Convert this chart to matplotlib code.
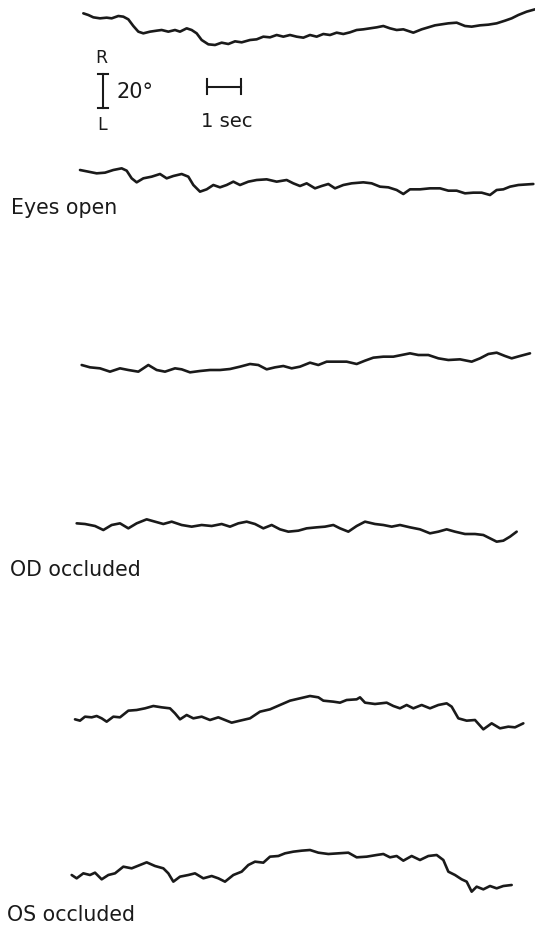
import matplotlib.pyplot as plt
import numpy as np

# eye position records: time (s) and horizontal position (deg, + = right)
t_top = [0.40, 0.55, 0.70, 0.90, 1.10, 1.25, 1.45, 1.60, 1.75, 1.90, 2.05, 2.20, 2.40, 2.60, 2.75,
         2.95, 3.15, 3.30, 3.50, 3.65, 3.80, 3.95, 4.15, 4.35, 4.55, 4.75, 4.95, 5.15, 5.40, 5.60,
         5.80, 6.00, 6.20, 6.40, 6.60, 6.80, 7.00, 7.20, 7.40, 7.60, 7.80, 8.00, 8.20, 8.40, 8.60,
         8.80, 9.00, 9.20, 9.40, 9.60, 9.80, 10.00, 10.30, 10.55, 10.75, 10.95, 11.15, 11.35, 11.60,
         11.85, 12.05, 12.30, 12.55, 12.80, 13.05, 13.25, 13.45, 13.70, 13.95]
pos_top = [8.0, 7.0, 5.6, 5.0, 5.4, 5.0, 6.4, 6.0, 4.4, 0.4, -3.0, -4.0, -3.0, -2.4, -2.0,
           -3.0, -2.0, -3.0, -1.0, -2.0, -4.0, -8.0, -10.6, -11.0, -9.6, -10.4, -8.8, -9.4, -8.0, -7.6,
           -6.0, -6.4, -5.0, -6.0, -5.0, -6.0, -6.6, -5.0, -6.0, -4.4, -5.0, -3.6, -4.4, -3.4, -2.0,
           -1.6, -1.0, -0.4, 0.4, -1.0, -2.0, -1.6, -3.6, -1.6, -0.4, 0.8, 1.4, 2.0, 2.4,
           0.4, 0.0, 0.8, 1.2, 2.0, 3.6, 5.0, 7.0, 9.0, 10.4]

t_open = [0.30, 0.55, 0.80, 1.05, 1.30, 1.55, 1.70, 1.85, 2.00, 2.20, 2.45, 2.70, 2.90, 3.10, 3.35,
          3.55, 3.70, 3.90, 4.10, 4.30, 4.50, 4.70, 4.90, 5.10, 5.35, 5.60, 5.90, 6.20, 6.50, 6.70,
          6.90, 7.10, 7.35, 7.55, 7.75, 7.95, 8.20, 8.45, 8.80, 9.05, 9.30, 9.55, 9.80, 10.00, 10.20,
          10.50, 10.80, 11.10, 11.35, 11.60, 11.85, 12.10, 12.35, 12.60, 12.80, 13.00, 13.20, 13.45, 13.90]
pos_open = [8.0, 7.0, 6.0, 6.4, 8.0, 9.0, 7.6, 3.0, 0.6, 3.0, 4.0, 5.6, 3.0, 4.4, 5.6,
            4.0, -1.0, -5.0, -3.6, -1.0, -2.4, -1.0, 1.0, -1.0, 1.0, 2.0, 2.4, 1.0, 2.0, 0.0,
            -1.6, 0.0, -3.0, -1.6, -0.4, -3.0, -1.0, 0.0, 0.6, 0.0, -2.0, -2.4, -4.0, -6.4, -3.6,
            -3.6, -3.0, -3.0, -4.4, -4.4, -6.0, -5.6, -5.6, -7.0, -4.0, -3.6, -2.0, -1.0, -0.4]

t_od1 = [0.35, 0.60, 0.90, 1.20, 1.50, 1.75, 2.05, 2.35, 2.60, 2.85, 3.15, 3.35, 3.60, 3.90, 4.20,
         4.50, 4.80, 5.10, 5.40, 5.65, 5.90, 6.15, 6.40, 6.65, 6.90, 7.20, 7.45, 7.70, 8.00, 8.30,
         8.60, 8.85, 9.10, 9.40, 9.70, 9.95, 10.20, 10.45, 10.75, 11.05, 11.35, 11.70, 12.05, 12.30,
         12.55, 12.80, 13.05, 13.25, 13.50, 13.80]
pos_od1 = [-1.0, -2.4, -3.0, -5.0, -3.0, -4.0, -5.0, -1.0, -4.0, -5.0, -3.0, -3.6, -5.4, -4.6, -4.0,
           -4.0, -3.4, -2.0, -0.4, -1.0, -3.6, -2.4, -1.6, -3.0, -2.0, 0.4, -1.0, 1.0, 1.0, 1.0,
           -0.4, 1.6, 3.4, 4.0, 4.0, 5.0, 6.0, 5.0, 5.0, 3.0, 2.0, 2.4, 1.0, 3.0,
           5.6, 6.4, 4.4, 3.0, 4.4, 6.0]

t_od2 = [0.20, 0.45, 0.75, 1.00, 1.25, 1.50, 1.75, 2.00, 2.30, 2.55, 2.80, 3.05, 3.35, 3.65, 3.95,
         4.25, 4.55, 4.80, 5.05, 5.30, 5.55, 5.80, 6.05, 6.30, 6.55, 6.85, 7.10, 7.40, 7.65, 7.90,
         8.10, 8.35, 8.60, 8.85, 9.15, 9.40, 9.65, 9.90, 10.20, 10.50, 10.80, 11.05, 11.30, 11.55,
         11.85, 12.15, 12.40, 12.60, 12.80, 13.00, 13.20, 13.40]
pos_od2 = [2.0, 1.6, 0.4, -2.0, 1.0, 2.0, -1.0, 2.0, 4.4, 3.0, 1.6, 3.0, 1.0, 0.0, 1.0,
           0.4, 1.6, 0.0, 2.0, 3.0, 1.6, -1.0, 1.0, -1.6, -3.0, -2.4, -1.0, -0.4, 0.0, 1.0,
           -1.0, -3.0, 0.4, 3.0, 1.6, 1.0, 0.0, 1.0, -0.4, -1.6, -4.0, -3.0, -1.6, -3.0,
           -4.4, -4.4, -5.0, -7.0, -9.0, -8.4, -6.0, -3.0]

t_os1 = [0.15, 0.30, 0.45, 0.65, 0.80, 0.95, 1.10, 1.30, 1.50, 1.75, 2.00, 2.25, 2.50, 2.75, 3.00,
         3.15, 3.30, 3.50, 3.70, 3.95, 4.20, 4.45, 4.65, 4.85, 5.10, 5.40, 5.70, 6.00, 6.30, 6.60,
         6.90, 7.20, 7.45, 7.60, 7.90, 8.10, 8.30, 8.60, 8.70, 8.85, 9.15, 9.50, 9.70, 9.90, 10.10,
         10.30, 10.55, 10.80, 11.05, 11.30, 11.45, 11.65, 11.90, 12.15, 12.40, 12.65, 12.90, 13.15,
         13.35, 13.60]
pos_os1 = [-1.6, -2.4, 0.0, -0.4, 0.4, -1.0, -3.0, 0.0, -0.4, 3.6, 4.0, 5.0, 6.4, 5.6, 5.0,
           2.0, -1.6, 1.0, -1.0, 0.0, -2.0, -0.4, -2.0, -3.6, -2.4, -1.0, 3.0, 4.4, 7.0, 9.6,
           11.0, 12.4, 11.6, 9.6, 9.0, 8.4, 10.0, 10.4, 11.6, 8.4, 7.6, 8.4, 6.4, 5.0, 7.0,
           5.0, 7.0, 5.0, 7.0, 8.0, 6.0, -1.0, -2.4, -2.0, -7.6, -4.0, -7.0, -6.0,
           -6.4, -4.0]

t_os2 = [0.05, 0.20, 0.40, 0.60, 0.75, 0.95, 1.15, 1.35, 1.60, 1.85, 2.10, 2.30, 2.55, 2.80, 2.95,
         3.10, 3.30, 3.55, 3.75, 4.00, 4.25, 4.45, 4.65, 4.90, 5.15, 5.35, 5.55, 5.80, 6.00, 6.25,
         6.45, 6.70, 6.95, 7.20, 7.45, 7.75, 8.05, 8.35, 8.60, 8.90, 9.20, 9.40, 9.60, 9.80, 10.00,
         10.25, 10.50, 10.75, 11.00, 11.20, 11.35, 11.55, 11.75, 11.90, 12.05, 12.20, 12.40, 12.60,
         12.80, 13.00, 13.25]
pos_os2 = [-3.0, -5.0, -2.0, -3.0, -1.6, -5.6, -3.0, -2.0, 2.0, 1.0, 3.0, 4.6, 2.4, 1.0, -2.0,
           -7.0, -4.0, -3.0, -2.0, -5.0, -3.6, -5.0, -7.0, -3.0, -1.0, 3.0, 5.0, 4.4, 8.0, 8.4,
           10.0, 11.0, 11.6, 12.0, 10.4, 9.6, 10.0, 10.4, 7.6, 8.0, 9.0, 9.6, 7.6, 8.4, 5.6,
           8.4, 6.0, 8.4, 9.0, 6.0, -1.0, -3.0, -5.6, -7.0, -13.0, -10.0, -11.6, -9.6,
           -11.0, -9.6, -9.0]

traces = [(t_top, pos_top), (t_open, pos_open), (t_od1, pos_od1),
          (t_od2, pos_od2), (t_os1, pos_os1), (t_os2, pos_os2)]
labels = ["Eyes open", "OD occluded", "OS occluded"]

# vertical placement of each record on the page
offsets = [-16.0, -110.0, -218.0, -316.0, -430.0, -522.0]
label_pos = [(-1.78, -128.7), (-1.79, -345.9), (-1.90, -552.6)]

plt.rcParams["font.family"] = ["DejaVu Sans"]
ink = "#1a1a1a"

fig = plt.figure(figsize=(5.35, 9.36), dpi=100)
ax = fig.add_axes([0, 0, 1, 1])
ax.set_xlim(-2.1, 13.95)
ax.set_ylim(-561.6, 0)
ax.axis("off")

for (t, p), off in zip(traces, offsets):
    ax.plot(t, np.array(p) + off, color=ink, lw=1.9, solid_joinstyle="round",
            solid_capstyle="round")

for text, (x, y) in zip(labels, label_pos):
    ax.text(x, y, text, fontsize=14.8, color=ink, ha="left", va="baseline")

# calibration: 20 degrees vertical, 1 second horizontal
bar_x, bar_top = 1.00, -44.5
ax.plot([bar_x, bar_x], [bar_top, bar_top - 20], color=ink, lw=1.5)
for yy in (bar_top, bar_top - 20):
    ax.plot([bar_x - 0.15, bar_x + 0.15], [yy, yy], color=ink, lw=1.5)
ax.text(bar_x - 0.05, -38.0, "R", fontsize=12.5, color=ink, ha="center", va="baseline")
ax.text(bar_x - 0.05, -78.0, "L", fontsize=12.5, color=ink, ha="center", va="baseline")
ax.text(1.40, -59.0, "20°", fontsize=15, color=ink, ha="left", va="baseline")

sec_x, sec_y = 4.12, -52.0
ax.plot([sec_x, sec_x + 1], [sec_y, sec_y], color=ink, lw=1.5)
for xx in (sec_x, sec_x + 1):
    ax.plot([xx, xx], [sec_y + 4.5, sec_y - 4.5], color=ink, lw=1.5)
ax.text(4.70, -76.0, "1 sec", fontsize=14, color=ink, ha="center", va="baseline")

fig.savefig("out.png", dpi=100, facecolor="white")
